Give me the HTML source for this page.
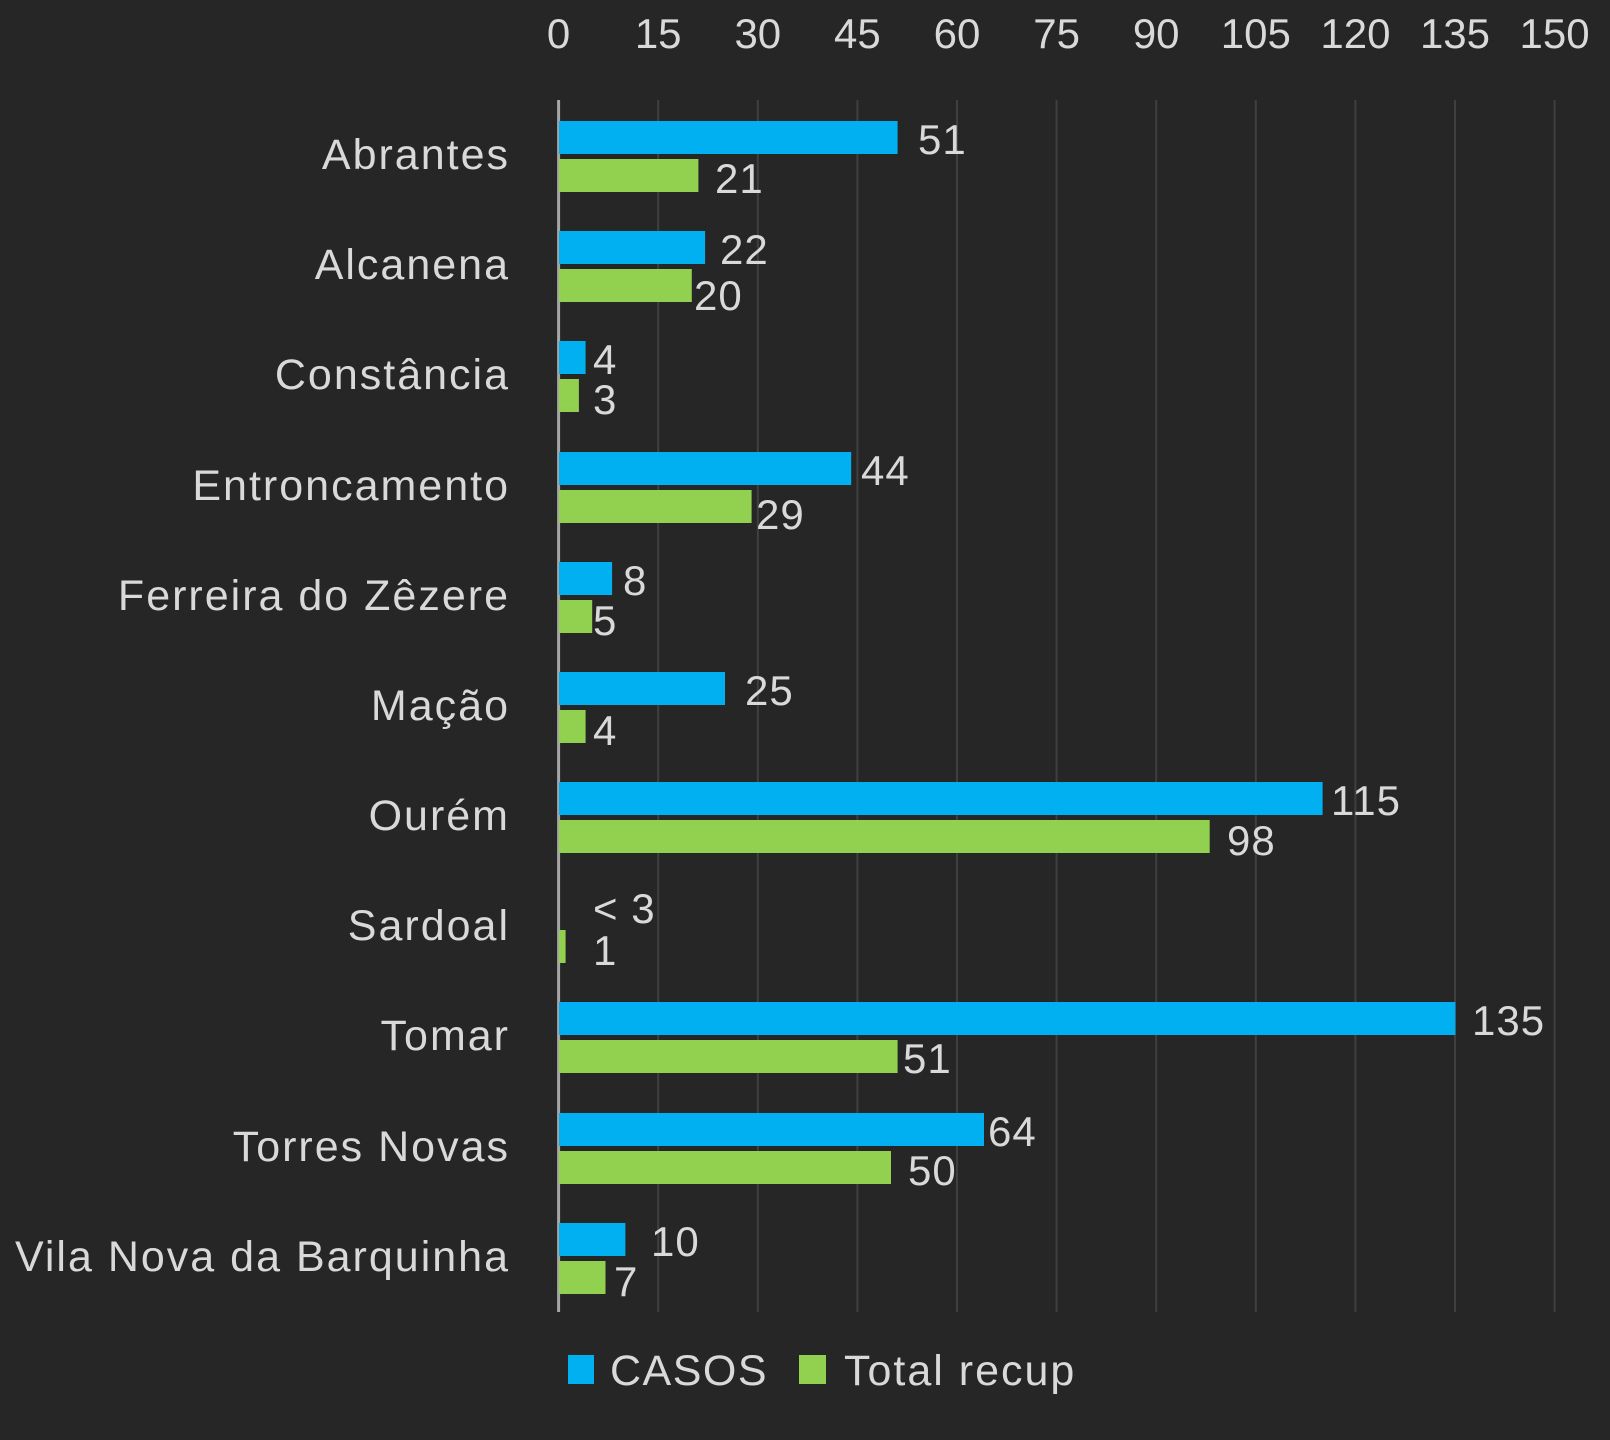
<!DOCTYPE html>
<html><head><meta charset="utf-8"><style>
html,body{margin:0;padding:0;background:#262626;}
svg{display:block;}
text{font-family:"Liberation Sans",sans-serif;fill:#d9d9d9;}
</style></head><body>
<svg width="1610" height="1440" viewBox="0 0 1610 1440" xmlns="http://www.w3.org/2000/svg">
<rect width="1610" height="1440" fill="#262626"/>
<g stroke="#3f3f3f" stroke-width="2">
<line x1="658.2" y1="100" x2="658.2" y2="1312"/>
<line x1="757.8" y1="100" x2="757.8" y2="1312"/>
<line x1="857.4" y1="100" x2="857.4" y2="1312"/>
<line x1="957" y1="100" x2="957" y2="1312"/>
<line x1="1056.6" y1="100" x2="1056.6" y2="1312"/>
<line x1="1156.2" y1="100" x2="1156.2" y2="1312"/>
<line x1="1255.8" y1="100" x2="1255.8" y2="1312"/>
<line x1="1355.4" y1="100" x2="1355.4" y2="1312"/>
<line x1="1455" y1="100" x2="1455" y2="1312"/>
<line x1="1554.6" y1="100" x2="1554.6" y2="1312"/>
</g>
<g font-size="42" text-anchor="middle">
<text x="558.6" y="48">0</text><text x="658.2" y="48">15</text><text x="757.8" y="48">30</text>
<text x="857.4" y="48">45</text><text x="957" y="48">60</text><text x="1056.6" y="48">75</text>
<text x="1156.2" y="48">90</text><text x="1255.8" y="48">105</text><text x="1355.4" y="48">120</text>
<text x="1455" y="48">135</text><text x="1554.6" y="48">150</text>
</g>
<line x1="558.6" y1="100" x2="558.6" y2="1312" stroke="#a6a6a6" stroke-width="3"/>
<rect x="568" y="1355" width="26" height="29" fill="#00b0f0"/>
<text x="610" y="1385" font-size="43" letter-spacing="1.5">CASOS</text>
<rect x="799" y="1355" width="27" height="29" fill="#92d050"/>
<text x="844" y="1385" font-size="43" letter-spacing="2">Total recup</text>
<g font-size="43" text-anchor="end" letter-spacing="2">
<text x="510" y="169">Abrantes</text>
<text x="510" y="279">Alcanena</text>
<text x="510" y="389">Constância</text>
<text x="510" y="500">Entroncamento</text>
<text x="510" y="610">Ferreira do Zêzere</text>
<text x="510" y="720">Mação</text>
<text x="510" y="830">Ourém</text>
<text x="510" y="940">Sardoal</text>
<text x="510" y="1050">Tomar</text>
<text x="510" y="1161">Torres Novas</text>
<text x="510" y="1271">Vila Nova da Barquinha</text>
</g>
<g font-size="42" letter-spacing="1">
<rect x="559" y="121" width="338.6" height="33" fill="#00b0f0"/><text x="918" y="154">51</text>
<rect x="559" y="159" width="139.4" height="33" fill="#92d050"/><text x="715" y="193">21</text>
<rect x="559" y="231" width="146.1" height="33" fill="#00b0f0"/><text x="720" y="264">22</text>
<rect x="559" y="269" width="132.8" height="33" fill="#92d050"/><text x="694" y="310">20</text>
<rect x="559" y="341" width="26.6" height="33" fill="#00b0f0"/><text x="593" y="374">4</text>
<rect x="559" y="379" width="19.9" height="33" fill="#92d050"/><text x="593" y="414">3</text>
<rect x="559" y="452" width="292.2" height="33" fill="#00b0f0"/><text x="861" y="485">44</text>
<rect x="559" y="490" width="192.6" height="33" fill="#92d050"/><text x="756" y="529">29</text>
<rect x="559" y="562" width="53.1" height="33" fill="#00b0f0"/><text x="623" y="595">8</text>
<rect x="559" y="600" width="33.2" height="33" fill="#92d050"/><text x="593" y="635">5</text>
<rect x="559" y="672" width="166" height="33" fill="#00b0f0"/><text x="745" y="705">25</text>
<rect x="559" y="710" width="26.6" height="33" fill="#92d050"/><text x="593" y="745">4</text>
<rect x="559" y="782" width="763.6" height="33" fill="#00b0f0"/><text x="1331" y="815">115</text>
<rect x="559" y="820" width="650.7" height="33" fill="#92d050"/><text x="1227" y="855">98</text>
<text x="593" y="923">&lt; 3</text>
<rect x="559" y="930" width="6.6" height="33" fill="#92d050"/><text x="593" y="965">1</text>
<rect x="559" y="1002" width="896.4" height="33" fill="#00b0f0"/><text x="1472" y="1035">135</text>
<rect x="559" y="1040" width="338.6" height="33" fill="#92d050"/><text x="903" y="1073">51</text>
<rect x="559" y="1113" width="425" height="33" fill="#00b0f0"/><text x="988" y="1146">64</text>
<rect x="559" y="1151" width="332" height="33" fill="#92d050"/><text x="908" y="1185">50</text>
<rect x="559" y="1223" width="66.4" height="33" fill="#00b0f0"/><text x="651" y="1256">10</text>
<rect x="559" y="1261" width="46.5" height="33" fill="#92d050"/><text x="614" y="1296">7</text>
</g>
</svg>
</body></html>
